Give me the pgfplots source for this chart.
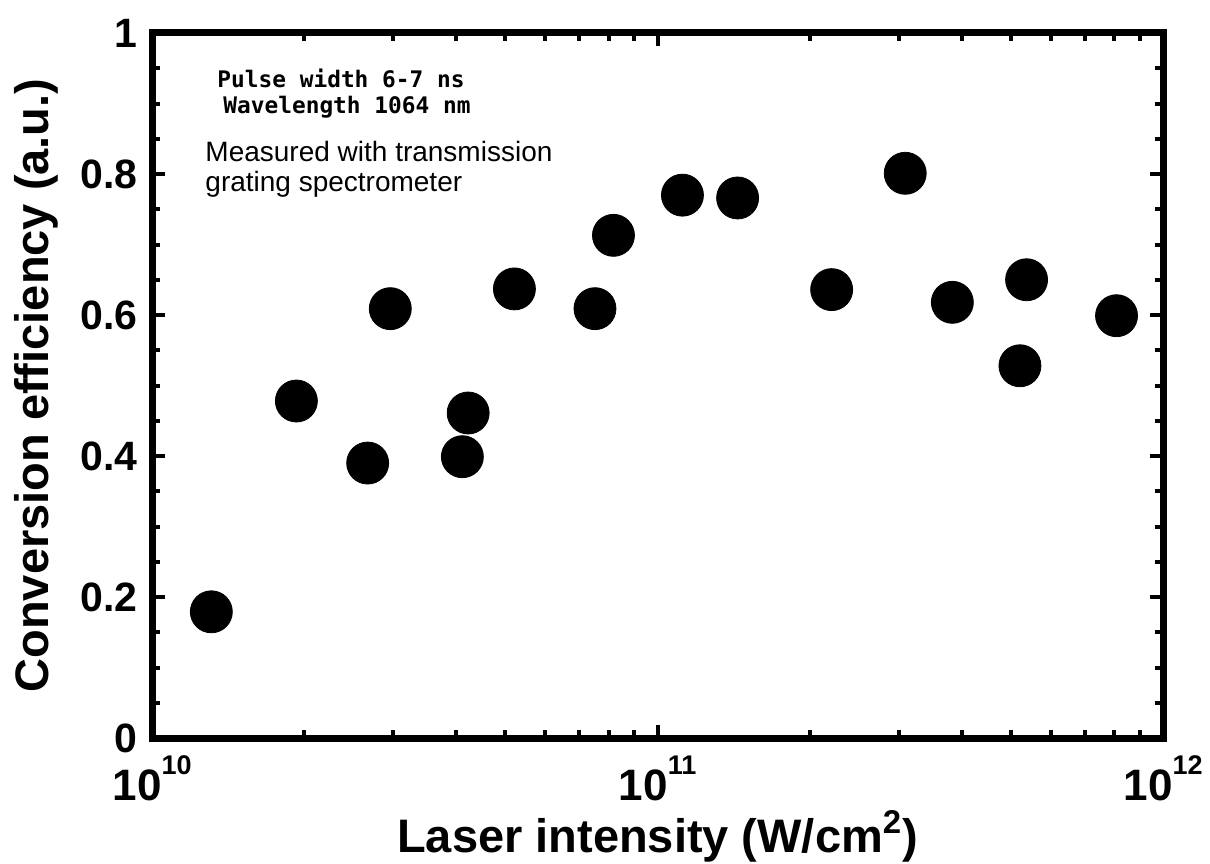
\documentclass[border=0pt]{standalone}
\usepackage{pgfplots}
\pgfplotsset{compat=1.18}
\usepackage{fontspec}
\setmainfont{Liberation Sans}
\newfontfamily\monofont{DejaVu Sans Mono}

% 10^n in the text font
\newcommand\pow[1]{10\raisebox{0.57em}{\fontsize{13.5pt}{13.5pt}\selectfont #1}}

\begin{document}
\begin{tikzpicture}
  % page = 1210x863 px at 0.5pt per px, axis box corner at origin
  \useasboundingbox (-76pt,-62.5pt) rectangle (529pt,369pt);
  \begin{axis}[
      scale only axis,
      width=505.5pt, height=352.5pt,
      xmode=log,
      xmin=1e10, xmax=1e12,
      ymin=0, ymax=1,
      xtick={1e10,1e11,1e12},
      xticklabels={\pow{10},\pow{11},\pow{12}},
      ytick={0,0.2,0.4,0.6,0.8,1},
      yticklabels={0,0.2,0.4,0.6,0.8,1},
      minor y tick num=3,
      tick align=inside,
      major tick length=6.5pt,
      minor tick length=4pt,
      axis line style={line width=3.5pt},
      major tick style={line width=2pt, black},
      minor tick style={line width=2pt, black},
      xticklabel style={font=\bfseries\fontsize{22pt}{22pt}\selectfont,
        anchor=base, inner sep=0pt, yshift=-31pt},
      yticklabel style={font=\bfseries\fontsize{20.5pt}{20.5pt}\selectfont,
        anchor=east, inner sep=0pt, xshift=-7pt},
      xlabel={Laser intensity (W/cm\textsuperscript{2})},
      ylabel={Conversion efficiency (a.u.)},
      x label style={font=\bfseries\fontsize{23.5pt}{23.5pt}\selectfont,
        at={(axis description cs:0.5,-0.1617)}, anchor=base, inner sep=0pt},
      y label style={font=\bfseries\fontsize{23.5pt}{23.5pt}\selectfont,
        at={(axis description cs:-0.1029,0.5)}, anchor=base, inner sep=0pt},
      clip=false,
    ]

    \addplot[only marks, mark=*, mark size=10.5pt,
      mark options={fill=black, draw=none}] coordinates {
      (1.31e10, 0.179)
      (1.93e10, 0.478)
      (2.67e10, 0.390)
      (2.96e10, 0.609)
      (4.11e10, 0.399)
      (4.22e10, 0.461)
      (5.21e10, 0.637)
      (7.52e10, 0.609)
      (8.18e10, 0.713)
      (1.12e11, 0.770)
      (1.44e11, 0.766)
      (2.21e11, 0.636)
      (3.09e11, 0.801)
      (3.83e11, 0.618)
      (5.21e11, 0.528)
      (5.37e11, 0.650)
      (8.09e11, 0.599)
    };

    \node[anchor=base west, inner sep=0pt,
      font=\monofont\bfseries\fontsize{11.4pt}{11.4pt}\selectfont]
      at (axis description cs:0.0643,0.922) {Pulse width 6-7 ns};
    \node[anchor=base west, inner sep=0pt,
      font=\monofont\bfseries\fontsize{11.4pt}{11.4pt}\selectfont]
      at (axis description cs:0.0702,0.8865) {Wavelength 1064 nm};
    \node[anchor=base west, inner sep=0pt, font=\fontsize{14pt}{14pt}\selectfont]
      at (axis description cs:0.0524,0.8175) {Measured with transmission};
    \node[anchor=base west, inner sep=0pt, font=\fontsize{14pt}{14pt}\selectfont]
      at (axis description cs:0.0524,0.7757) {grating spectrometer};

  \end{axis}
\end{tikzpicture}
\end{document}
